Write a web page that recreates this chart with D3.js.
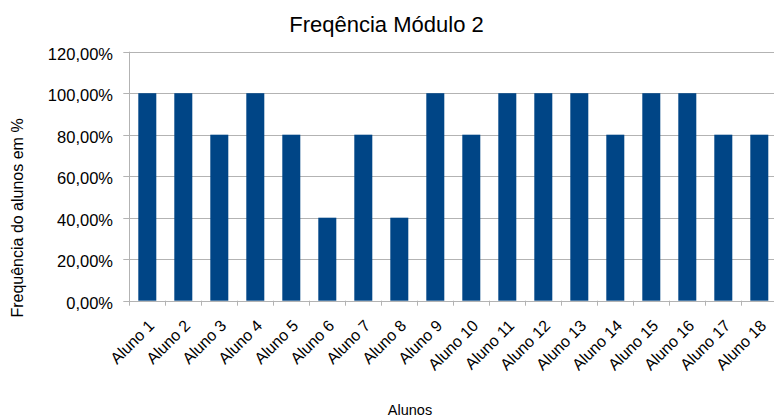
<!DOCTYPE html>
<html>
<head>
<meta charset="utf-8">
<script src="https://cdnjs.cloudflare.com/ajax/libs/d3/7.8.5/d3.min.js"></script>
<style>
  body { margin: 0; background: #fff; }
  text { font-family: "Liberation Sans", Arial, sans-serif; fill: #000; }
</style>
</head>
<body>
<script>
var width = 774, height = 417;

// data
var alunos = ["Aluno 1", "Aluno 2", "Aluno 3", "Aluno 4", "Aluno 5", "Aluno 6",
              "Aluno 7", "Aluno 8", "Aluno 9", "Aluno 10", "Aluno 11", "Aluno 12",
              "Aluno 13", "Aluno 14", "Aluno 15", "Aluno 16", "Aluno 17", "Aluno 18"];
var frequencia = [1, 1, 0.8, 1, 0.8, 0.4, 0.8, 0.4, 1, 0.8, 1, 1, 1, 0.8, 1, 1, 0.8, 0.8];
var yTicks = [0, 0.2, 0.4, 0.6, 0.8, 1, 1.2];

// plot area (runs a little past the right edge, as in the original)
var plotLeft = 129.3, plotRight = 777.3, plotTop = 51.7, plotBottom = 300.7;

var svg = d3.select("body").append("svg")
    .attr("width", width)
    .attr("height", height);

svg.append("rect").attr("width", "100%").attr("height", "100%").attr("fill", "#fff");

var x = d3.scaleBand()
    .domain(alunos)
    .range([plotLeft, plotRight])
    .paddingInner(0.5)
    .paddingOuter(0.25);

// band boundaries for the category ticks
var xb = d3.scaleBand().domain(alunos).range([plotLeft, plotRight]);

var y = d3.scaleLinear()
    .domain([0, 1.2])
    .range([plotBottom, plotTop]);

var fmt = function(v) { return d3.format(".2f")(v * 100).replace(".", ",") + "%"; };

// gridlines
svg.append("g")
    .selectAll("line")
    .data(yTicks)
    .enter().append("line")
    .attr("x1", plotLeft - 6)
    .attr("x2", width)
    .attr("y1", function(d) { return Math.round(y(d)) + 0.5; })
    .attr("y2", function(d) { return Math.round(y(d)) + 0.5; })
    .style("stroke", "#b3b3b3")
    .style("stroke-width", 1);

// y tick labels
svg.append("g")
    .selectAll("text")
    .data(yTicks)
    .enter().append("text")
    .attr("x", 113)
    .attr("y", function(d) { return y(d) + 8; })
    .attr("text-anchor", "end")
    .style("font-size", "16.5px")
    .text(fmt);

// bars
svg.append("g")
    .selectAll("rect")
    .data(frequencia)
    .enter().append("rect")
    .attr("x", function(d, i) { return x(alunos[i]); })
    .attr("width", x.bandwidth())
    .attr("y", function(d) { return y(d); })
    .attr("height", function(d) { return y(0) - y(d); })
    .style("fill", "#004586");

// y axis line
svg.append("line")
    .attr("x1", Math.round(plotLeft) + 0.5).attr("x2", Math.round(plotLeft) + 0.5)
    .attr("y1", y(1.2)).attr("y2", y(0) + 1)
    .style("stroke", "#b3b3b3");

// x category ticks
svg.append("g")
    .selectAll("line")
    .data(alunos)
    .enter().append("line")
    .attr("x1", function(d) { return Math.round(xb(d)) + 0.5; })
    .attr("x2", function(d) { return Math.round(xb(d)) + 0.5; })
    .attr("y1", y(0))
    .attr("y2", y(0) + 5)
    .style("stroke", "#b3b3b3");

// x tick labels, rotated
svg.append("g")
    .selectAll("text")
    .data(alunos)
    .enter().append("text")
    .attr("transform", function(d) {
        return "translate(" + (xb(d) + xb.bandwidth() / 2 + 8) + "," + (y(0) + 26) + ") rotate(-45)";
    })
    .attr("text-anchor", "end")
    .style("font-size", "16px")
    .text(function(d) { return d; });

// title
svg.append("text")
    .attr("x", 386.5)
    .attr("y", 32)
    .attr("text-anchor", "middle")
    .style("font-size", "22px")
    .text("Freqência Módulo 2");

// axis titles
svg.append("text")
    .attr("x", 410)
    .attr("y", 415)
    .attr("text-anchor", "middle")
    .style("font-size", "14.5px")
    .text("Alunos");

svg.append("text")
    .attr("transform", "translate(23,218) rotate(-90)")
    .attr("text-anchor", "middle")
    .style("font-size", "16px")
    .text("Frequência do alunos em %");
</script>
</body>
</html>
